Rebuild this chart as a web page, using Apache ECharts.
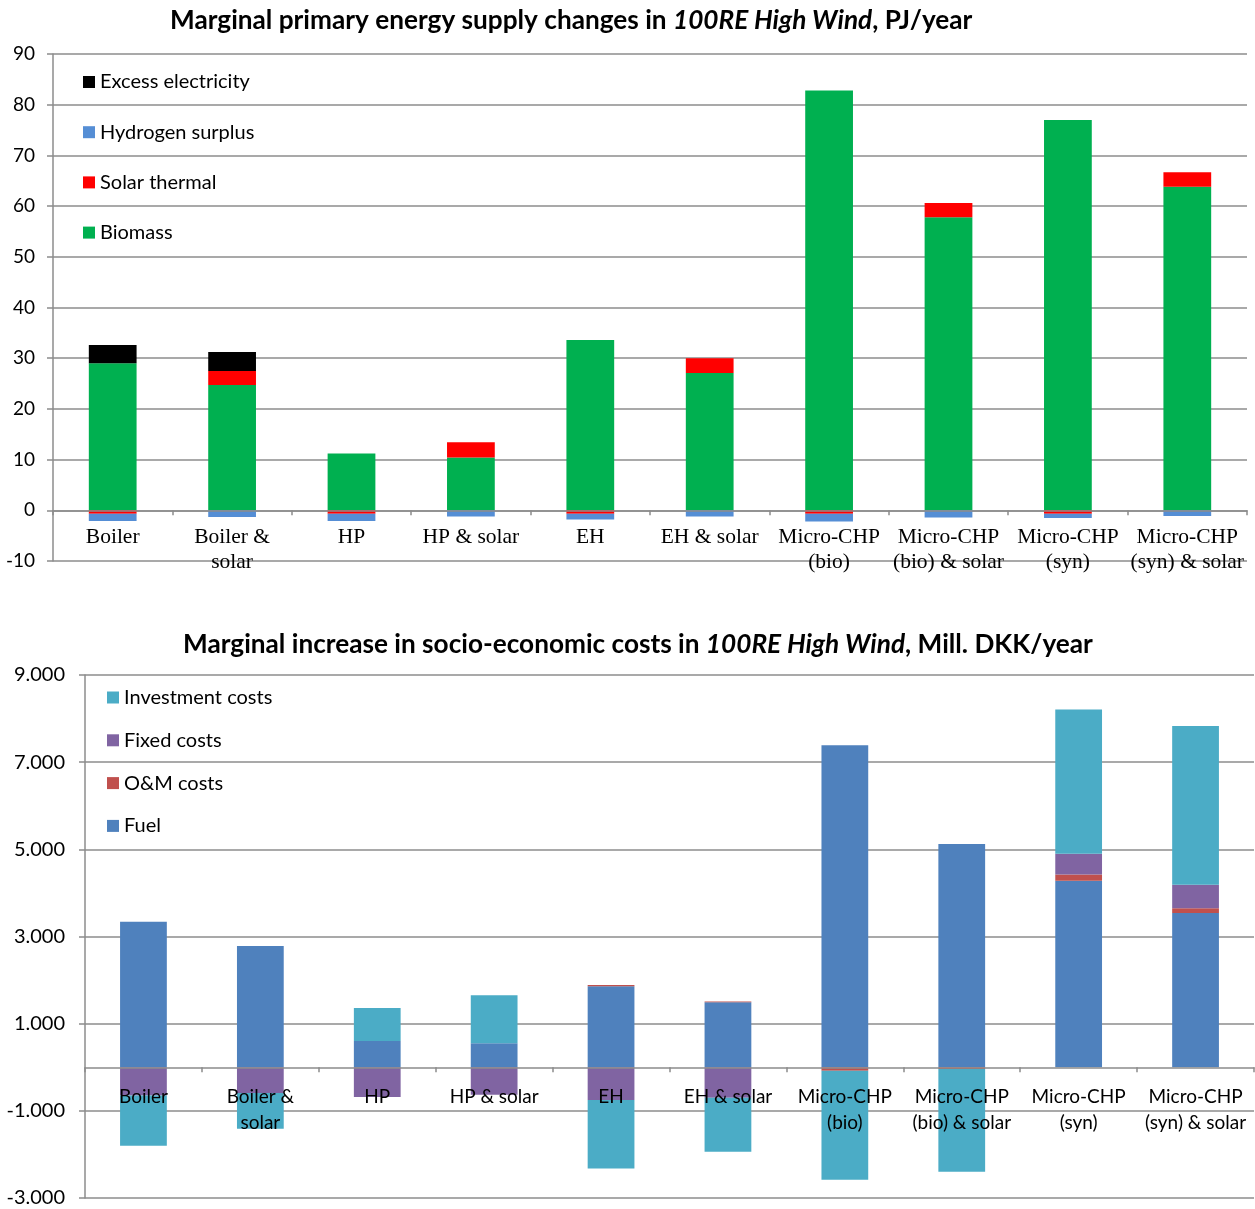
<!DOCTYPE html>
<html>
<head>
<meta charset="utf-8">
<script src="https://cdn.jsdelivr.net/npm/echarts@6/dist/echarts.min.js"></script>
<style>
html,body{margin:0;padding:0;background:#fff;}
#c{width:1255px;height:1209px;}
</style>
</head>
<body>
<div id="c"></div>
<script>
// ---------- DATA ----------
const categories = ['Boiler','Boiler &\nsolar','HP','HP & solar','EH','EH & solar','Micro-CHP\n(bio)','Micro-CHP\n(bio) & solar','Micro-CHP\n(syn)','Micro-CHP\n(syn) & solar'];

// Top chart: PJ/year
const biomass      = [29.0, 24.7, 11.2, 10.4, 33.6, 27.1, 82.8, 57.8, 77.0, 63.8];
const solarThermal = [-0.7,  2.8, -0.7,  3.0, -0.7,  2.9, -0.7,  2.8, -0.7,  2.9];
const hydrogenSurplus = [-1.4, -1.3, -1.4, -1.2, -1.1, -1.2, -1.5, -1.4, -0.8, -1.1];
const excessElectricity = [3.6, 3.7, 0, 0, 0, 0, 0, 0, 0, 0];
const topTicks = {min: -10, max: 90, interval: 10};

// Bottom chart: Mill. DKK/year
const fuel       = [3340, 2780, 600, 550, 1860, 1490, 7390, 5120, 4280, 3540];
const omCosts    = [0, 0, 0, 0, 30, 20, -80, -40, 140, 110];
const fixedCosts = [-650, -590, -680, -630, -750, -700, 0, 0, 480, 540];
const investment = [-1150, -820, 760, 1100, -1575, -1240, -2500, -2360, 3310, 3640];
const bottomTicks = {min: -3000, max: 9000, interval: 2000};

// ---------- STYLE ----------
const GRID_COLOR = '#8c8c8c';
const SANS = 'Lato, "Open Sans", sans-serif';
const SERIF = '"Liberation Serif", "DejaVu Serif", serif';

function fmtDK(v){
  const a = Math.abs(v);
  const th = Math.floor(a/1000);
  const rest = String(a % 1000).padStart(3,'0');
  return (v<0?'-':'') + (th>0 ? th + '.' + rest : String(a));
}

const chart = echarts.init(document.getElementById('c'), null, {renderer:'canvas'});

function bar(name, data, color, stack, xi){
  return {
    name, type:'bar', stack, data,
    xAxisIndex: xi, yAxisIndex: xi,
    barWidth: '40%',
    itemStyle: {color},
    emphasis: {disabled: true},
    animation: false
  };
}

const titleRich = {
  b: {fontFamily: SANS, fontWeight: 'bold', fontSize: 26.2, color: '#000'},
  i: {fontFamily: SANS, fontWeight: 'bold', fontStyle: 'italic', fontSize: 26.2, color: '#000'}
};

const option = {
  animation: false,
  title: [
    {
      left: 170, top: 8, padding: 0,
      text: '{b|Marginal primary energy supply changes in }{i|100RE High Wind}{b|, PJ/year}',
      textStyle: {rich: titleRich}
    },
    {
      left: 183, top: 632, padding: 0,
      text: '{b|Marginal increase in socio-economic costs in }{i|100RE High Wind}{b|, Mill. DKK/year}',
      textStyle: {rich: titleRich}
    }
  ],
  legend: [
    {
      orient: 'vertical', left: 83, top: 72, padding: 0,
      itemWidth: 12, itemHeight: 12, itemGap: 30.2, icon: 'rect',
      data: ['Excess electricity','Hydrogen surplus','Solar thermal','Biomass'],
      textStyle: {fontFamily: SANS, fontSize: 20, color: '#000', lineHeight: 20},
      selectedMode: false
    },
    {
      orient: 'vertical', left: 107, top: 687.5, padding: 0,
      itemWidth: 12, itemHeight: 12, itemGap: 22.8, icon: 'rect',
      data: ['Investment costs','Fixed costs','O&M costs','Fuel'],
      textStyle: {fontFamily: SANS, fontSize: 20, color: '#000', lineHeight: 20},
      selectedMode: false
    }
  ],
  grid: [
    {left: 53, top: 54, width: 1194, height: 507, containLabel: false, outerBoundsMode: 'none'},
    {left: 85, top: 675, width: 1169, height: 523, containLabel: false, outerBoundsMode: 'none'}
  ],
  xAxis: [
    {
      type: 'category', gridIndex: 0, data: categories,
      axisLine: {onZero: true, lineStyle: {color: GRID_COLOR, width: 1.5}},
      axisTick: {show: true, interval: 0, length: 5, lineStyle: {color: GRID_COLOR, width: 1.5}},
      axisLabel: {interval: 0, margin: -36, fontFamily: SERIF, fontSize: 21.5, color: '#000', lineHeight: 25},
      z: 5
    },
    {
      type: 'category', gridIndex: 1, data: categories,
      axisLine: {onZero: true, lineStyle: {color: GRID_COLOR, width: 1.5}},
      axisTick: {show: true, interval: 0, length: 5, lineStyle: {color: GRID_COLOR, width: 1.5}},
      axisLabel: {interval: 0, margin: -114, fontFamily: SANS, fontSize: 19, color: '#000', lineHeight: 26},
      z: 5
    }
  ],
  yAxis: [
    {
      type: 'value', gridIndex: 0,
      min: topTicks.min, max: topTicks.max, interval: topTicks.interval,
      axisLine: {show: true, lineStyle: {color: GRID_COLOR, width: 1.5}},
      axisTick: {show: true, length: 6, lineStyle: {color: GRID_COLOR, width: 1.5}},
      axisLabel: {margin: 18, fontFamily: SANS, fontSize: 19, color: '#000'},
      splitLine: {show: true, lineStyle: {color: GRID_COLOR, width: 1.5}}
    },
    {
      type: 'value', gridIndex: 1,
      min: bottomTicks.min, max: bottomTicks.max, interval: bottomTicks.interval,
      axisLine: {show: true, lineStyle: {color: GRID_COLOR, width: 1.5}},
      axisTick: {show: true, length: 6, lineStyle: {color: GRID_COLOR, width: 1.5}},
      axisLabel: {margin: 20, fontFamily: SANS, fontSize: 20, color: '#000', formatter: fmtDK},
      splitLine: {show: true, lineStyle: {color: GRID_COLOR, width: 1.5}}
    }
  ],
  series: [
    bar('Biomass', biomass, '#00B050', 'top', 0),
    bar('Solar thermal', solarThermal, '#FF0000', 'top', 0),
    bar('Hydrogen surplus', hydrogenSurplus, '#558ED5', 'top', 0),
    bar('Excess electricity', excessElectricity, '#000000', 'top', 0),
    bar('Fuel', fuel, '#4F81BD', 'bottom', 1),
    bar('O&M costs', omCosts, '#C0504D', 'bottom', 1),
    bar('Fixed costs', fixedCosts, '#8064A2', 'bottom', 1),
    bar('Investment costs', investment, '#4BACC6', 'bottom', 1)
  ]
};
chart.setOption(option);
</script>
</body>
</html>
